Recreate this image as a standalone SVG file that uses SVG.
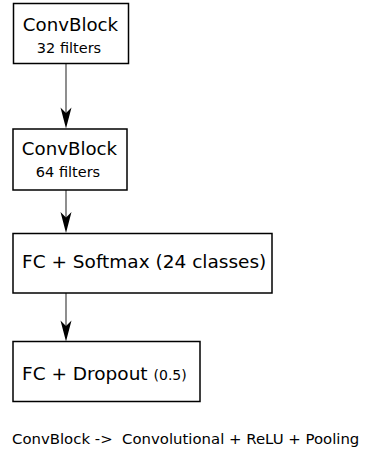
<svg xmlns="http://www.w3.org/2000/svg" width="375" height="453" viewBox="0 0 375 453">
<style>
.box{fill:#fff;stroke:#000;stroke-width:1.5}
.t{font-family:"DejaVu Sans",sans-serif;fill:#000}
.edge{stroke:#444;stroke-width:1.2;fill:none}
.head{fill:#000}
</style>
<rect width="375" height="453" fill="#fff"/>
<g id="connectors">
<line class="edge" x1="66" y1="64" x2="66" y2="115"/>
<path class="head" d="M66,128.5 L60.5,107.5 L66,113 L71.5,107.5 Z"/>
<line class="edge" x1="66" y1="190" x2="66" y2="218"/>
<path class="head" d="M66,233 L60.5,212 L66,217.5 L71.5,212 Z"/>
<line class="edge" x1="66" y1="293" x2="66" y2="327"/>
<path class="head" d="M66,341.5 L60.5,320.5 L66,326 L71.5,320.5 Z"/>
</g>
<g id="conv1">
<rect class="box" x="13.5" y="3.5" width="115" height="60"/>
<text class="t" x="70.5" y="31" font-size="18.2" text-anchor="middle">ConvBlock</text>
<text class="t" x="69" y="53" font-size="14.5" text-anchor="middle">32 filters</text>
</g>
<g id="conv2">
<rect class="box" x="13" y="129" width="114" height="61"/>
<text class="t" x="69.5" y="155" font-size="18.2" text-anchor="middle">ConvBlock</text>
<text class="t" x="68" y="177" font-size="14.5" text-anchor="middle">64 filters</text>
</g>
<g id="fc_softmax">
<rect class="box" x="13" y="233.5" width="259" height="59.5"/>
<text class="t" x="22" y="268" font-size="18.5">FC + Softmax (24 classes)</text>
</g>
<g id="fc_dropout">
<rect class="box" x="13" y="341.5" width="187" height="60"/>
<text class="t" x="22" y="379.5" font-size="18.5">FC + Dropout <tspan font-size="14">(0.5)</tspan></text>
</g>
<text class="t" x="12" y="444" font-size="14.9" xml:space="preserve">ConvBlock -&gt;  Convolutional + ReLU + Pooling</text>
</svg>
